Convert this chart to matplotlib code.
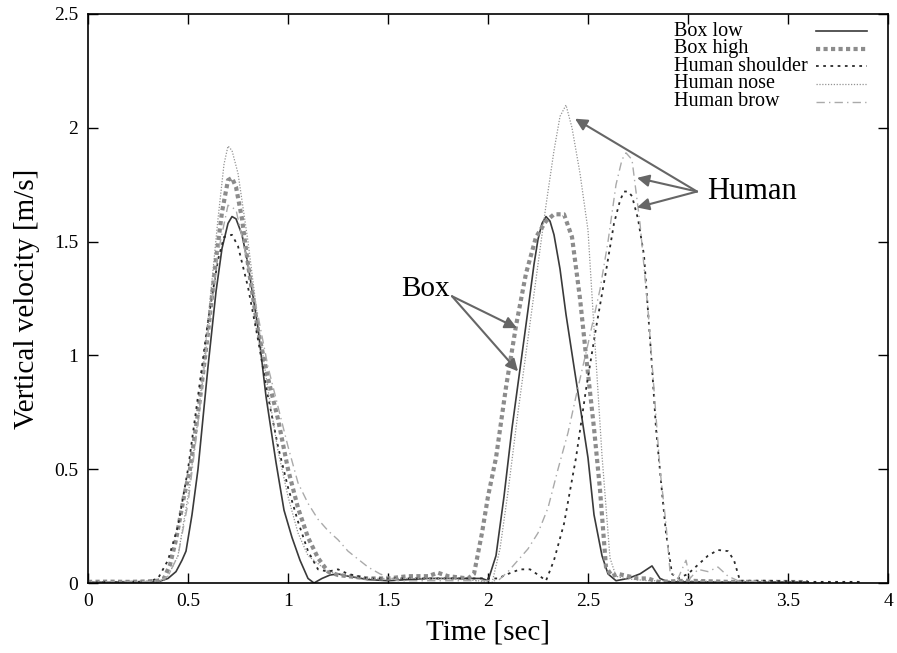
import matplotlib
matplotlib.use('Agg')
import matplotlib.pyplot as plt

plt.rcParams['font.family'] = ['Liberation Serif', 'DejaVu Serif']

# ---- data (time [s], vertical velocity [m/s]) ----
t_box_low = [0, 0.1, 0.2, 0.3, 0.36, 0.4, 0.44, 0.47, 0.49, 0.52, 0.55, 0.6, 0.64, 0.67, 0.70, 0.72,
             0.74, 0.77, 0.8, 0.85, 0.89, 0.94, 0.98, 1.02, 1.06, 1.1, 1.13, 1.17, 1.21, 1.25, 1.3, 1.4,
             1.5, 1.6, 1.7, 1.8, 1.9, 1.97, 2.0, 2.04, 2.08, 2.12, 2.16, 2.2, 2.23, 2.25, 2.27, 2.29,
             2.31, 2.33, 2.36, 2.39, 2.43, 2.46, 2.5, 2.53, 2.57, 2.6, 2.64, 2.7, 2.76, 2.82, 2.86, 2.9,
             3.0, 3.2, 3.4, 3.6]
v_box_low = [0.005, 0.004, 0.006, 0.005, 0.008, 0.02, 0.05, 0.1, 0.14, 0.3, 0.5, 0.95, 1.28, 1.47, 1.58, 1.61,
             1.6, 1.53, 1.4, 1.12, 0.82, 0.53, 0.32, 0.2, 0.1, 0.02, 0.0, 0.02, 0.035, 0.04, 0.03, 0.015,
             0.01, 0.015, 0.02, 0.02, 0.02, 0.02, 0.01, 0.12, 0.38, 0.68, 0.94, 1.2, 1.4, 1.51, 1.58, 1.61,
             1.59, 1.53, 1.38, 1.18, 0.95, 0.78, 0.55, 0.3, 0.12, 0.04, 0.01, 0.02, 0.04, 0.075, 0.02, 0.005,
             0.005, 0.004, 0.004, 0.004]

t_box_high = [0, 0.1, 0.2, 0.3, 0.35, 0.38, 0.41, 0.44, 0.48, 0.51, 0.56, 0.6, 0.64, 0.67, 0.7, 0.72,
              0.74, 0.77, 0.8, 0.85, 0.9, 0.95, 1.0, 1.05, 1.1, 1.15, 1.2, 1.25, 1.3, 1.4, 1.5, 1.6, 1.7,
              1.75, 1.8, 1.9, 1.93, 1.97, 2.0, 2.04, 2.09, 2.14, 2.19, 2.24, 2.29, 2.33, 2.38, 2.42,
              2.46, 2.49, 2.53, 2.56, 2.59, 2.62, 2.65, 2.7, 2.75, 2.8, 2.85, 3.0, 3.2, 3.4, 3.6]
v_box_high = [0.005, 0.006, 0.005, 0.007, 0.01, 0.02, 0.08, 0.19, 0.38, 0.5, 0.81, 1.1, 1.42, 1.63, 1.77, 1.78,
              1.74, 1.6, 1.4, 1.11, 0.9, 0.72, 0.5, 0.33, 0.2, 0.11, 0.05, 0.035, 0.03, 0.02, 0.02, 0.03, 0.03,
              0.045, 0.03, 0.02, 0.04, 0.22, 0.38, 0.55, 0.86, 1.13, 1.36, 1.52, 1.59, 1.62, 1.62, 1.52,
              1.25, 1.0, 0.68, 0.41, 0.07, 0.03, 0.04, 0.03, 0.02, 0.02, 0.005, 0.01, 0.005, 0.005, 0.004]

t_shoulder = [0, 0.1, 0.2, 0.3, 0.35, 0.4, 0.45, 0.5, 0.55, 0.6, 0.65, 0.68, 0.72, 0.75, 0.8, 0.85,
              0.9, 0.95, 1.0, 1.05, 1.1, 1.15, 1.2, 1.25, 1.3, 1.4, 1.5, 1.6, 1.7, 1.8, 1.95, 2.05,
              2.1, 2.16, 2.21, 2.26, 2.29, 2.33, 2.38, 2.44, 2.49, 2.54, 2.59, 2.63, 2.66, 2.68, 2.7,
              2.72, 2.75, 2.78, 2.82, 2.84, 2.87, 2.89, 2.92, 2.95, 3.0, 3.05, 3.1, 3.15, 3.2, 3.23, 3.26,
              3.4, 3.6, 3.86]
v_shoulder = [0.005, 0.004, 0.005, 0.006, 0.02, 0.1, 0.25, 0.5, 0.82, 1.15, 1.42, 1.52, 1.53, 1.48, 1.3, 1.07,
              0.82, 0.6, 0.42, 0.27, 0.14, 0.06, 0.05, 0.06, 0.04, 0.02, 0.02, 0.02, 0.02, 0.02, 0.02, 0.02,
              0.04, 0.06, 0.06, 0.03, 0.01, 0.1, 0.26, 0.55, 0.85, 1.12, 1.37, 1.58, 1.68, 1.72, 1.72,
              1.7, 1.6, 1.44, 0.95, 0.68, 0.4, 0.22, 0.04, 0.02, 0.04, 0.08, 0.12, 0.145, 0.14, 0.1, 0.01,
              0.01, 0.005, 0.005]

t_nose = [0, 0.1, 0.2, 0.3, 0.36, 0.4, 0.45, 0.5, 0.55, 0.6, 0.65, 0.68, 0.7, 0.72, 0.75, 0.8, 0.85,
          0.9, 0.95, 1.0, 1.05, 1.1, 1.2, 1.3, 1.4, 1.6, 1.8, 1.95, 2.02, 2.06, 2.1, 2.15, 2.21, 2.25,
          2.29, 2.33, 2.36, 2.39, 2.42, 2.46, 2.5, 2.53, 2.57, 2.61, 2.64, 2.68, 2.8, 3.0, 3.2, 3.4]
v_nose = [0.004, 0.005, 0.004, 0.006, 0.01, 0.03, 0.12, 0.38, 0.72, 1.15, 1.6, 1.84, 1.92, 1.9, 1.8, 1.5, 1.15,
          0.85, 0.58, 0.38, 0.22, 0.12, 0.05, 0.03, 0.02, 0.02, 0.02, 0.01, 0.0, 0.15, 0.4, 0.75, 1.14, 1.4,
          1.66, 1.9, 2.05, 2.1, 2.0, 1.8, 1.55, 1.12, 0.56, 0.11, 0.03, 0.02, 0.01, 0.01, 0.005, 0.004]

t_brow = [0, 0.1, 0.2, 0.3, 0.36, 0.4, 0.45, 0.5, 0.55, 0.6, 0.65, 0.7, 0.74, 0.8, 0.9, 1.0, 1.05,
          1.1, 1.15, 1.2, 1.25, 1.3, 1.4, 1.46, 1.55, 1.7, 1.9, 2.05, 2.1, 2.15, 2.2, 2.25, 2.3, 2.35,
          2.4, 2.44, 2.5, 2.56, 2.6, 2.64, 2.67, 2.69, 2.72, 2.76, 2.8, 2.83, 2.86, 2.89, 2.91, 2.95,
          2.99, 3.01, 3.05, 3.1, 3.15, 3.2, 3.25, 3.4]
v_brow = [0.004, 0.005, 0.005, 0.006, 0.01, 0.03, 0.12, 0.35, 0.7, 1.1, 1.45, 1.66, 1.64, 1.4, 0.95, 0.6, 0.44,
          0.35, 0.28, 0.23, 0.19, 0.14, 0.07, 0.04, 0.01, 0.01, 0.01, 0.01, 0.05, 0.1, 0.15, 0.22, 0.33, 0.5,
          0.66, 0.82, 1.05, 1.29, 1.5, 1.75, 1.86, 1.89, 1.86, 1.58, 1.2, 0.85, 0.5, 0.26, 0.05, 0.02,
          0.1, 0.02, 0.06, 0.05, 0.07, 0.03, 0.01, 0.005]

x_ticks = [0, 0.5, 1, 1.5, 2, 2.5, 3, 3.5, 4]
x_tick_labels = ['0', '0.5', '1', '1.5', '2', '2.5', '3', '3.5', '4']
y_ticks = [0, 0.5, 1, 1.5, 2, 2.5]
y_tick_labels = ['0', '0.5', '1', '1.5', '2', '2.5']

series = [
    ('Box low', t_box_low, v_box_low, dict(color='#3a3a3a', lw=1.2, ls='-')),
    ('Box high', t_box_high, v_box_high, dict(color='#8c8c8c', lw=3.0, ls=(0, (1, 0.8)), dash_capstyle='butt')),
    ('Human shoulder', t_shoulder, v_shoulder, dict(color='#2a2a2a', lw=1.3, ls=(0, (1.5, 2.5)))),
    ('Human nose', t_nose, v_nose, dict(color='#939393', lw=0.9, ls=(0, (1, 1.3)))),
    ('Human brow', t_brow, v_brow, dict(color='#aaaaaa', lw=1.0, ls=(0, (6, 3, 1, 3)))),
]

fig = plt.figure(figsize=(8.97, 6.53), dpi=100)
ax = fig.add_axes([88 / 897, 1 - 583 / 653, 800 / 897, 569 / 653])

for name, t, v, style in series:
    ax.plot(t, v, **style)

ax.set_xlim(0, 4)
ax.set_ylim(0, 2.5)
ax.set_xticks(x_ticks)
ax.set_xticklabels(x_tick_labels)
ax.set_yticks(y_ticks)
ax.set_yticklabels(y_tick_labels)
ax.tick_params(direction='in', top=True, right=True, length=7, width=1, labelsize=14)
ax.tick_params(axis='x', pad=7)
ax.tick_params(axis='y', pad=7)
for sp in ax.spines.values():
    sp.set_linewidth(1.2)

ax.set_xlabel('Time [sec]', fontsize=21, labelpad=7)
ax.set_ylabel('Vertical velocity [m/s]', fontsize=21, labelpad=10)

# gnuplot-style key: text left aligned, samples on the right
key_rows = [0.970, 0.939, 0.908, 0.877, 0.846]
for (name, t, v, style), ky in zip(series, key_rows):
    ax.text(0.7325, ky, name, transform=ax.transAxes, fontsize=14.5, va='center', ha='left')
    ax.plot([0.91, 0.974], [ky, ky], transform=ax.transAxes, **style)

# annotations
arrow = dict(arrowstyle='-|>', color='#666666', lw=1.5, mutation_scale=18, shrinkA=0, shrinkB=0)
ax.text(1.565, 1.29, 'Box', fontsize=21, va='center', ha='left')
ax.annotate('', xy=(2.145, 1.12), xytext=(1.82, 1.26), arrowprops=arrow)
ax.annotate('', xy=(2.15, 0.93), xytext=(1.82, 1.26), arrowprops=arrow)

ax.text(3.095, 1.72, 'Human', fontsize=22, va='center', ha='left')
ax.annotate('', xy=(2.435, 2.04), xytext=(3.045, 1.72), arrowprops=arrow)
ax.annotate('', xy=(2.745, 1.78), xytext=(3.045, 1.72), arrowprops=arrow)
ax.annotate('', xy=(2.745, 1.65), xytext=(3.045, 1.72), arrowprops=arrow)

plt.savefig('out.png', dpi=100)
